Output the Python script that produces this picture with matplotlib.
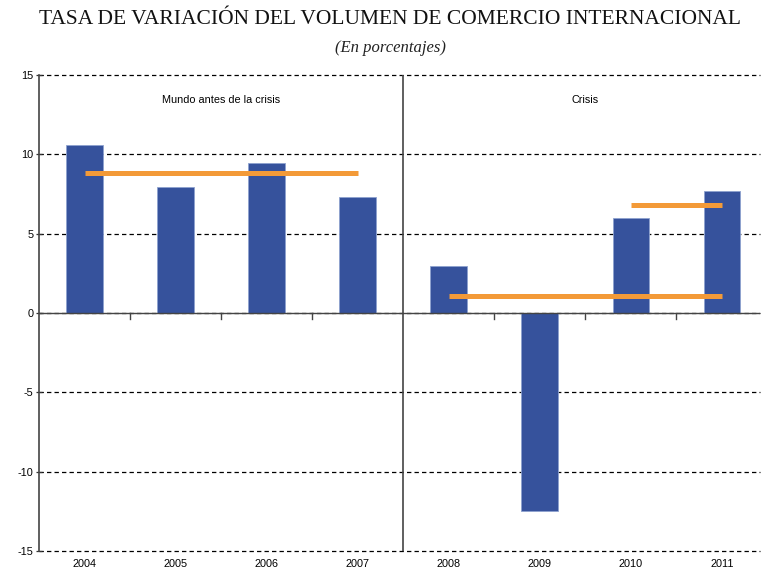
import matplotlib.pyplot as plt
import numpy as np

# data
years = ['2004', '2005', '2006', '2007', '2008', '2009', '2010', '2011']
growth = [10.6, 7.95, 9.45, 7.3, 2.95, -12.5, 6.0, 7.7]

# averages (start year index, end year index, value)
avg_pre = (0, 3, 8.8)
avg_crisis = (4, 7, 1.1)
avg_recovery = (6, 7, 6.8)

panel_labels = ['Mundo antes de la crisis', 'Crisis']

bar_color = '#36529c'
line_color = '#f39a38'

plt.rcParams['font.family'] = ['Liberation Sans', 'DejaVu Sans']

fig = plt.figure(figsize=(7.62, 5.71), dpi=100)
ax = fig.add_axes([39 / 762, 20 / 571, 721 / 762, 476 / 571])

x = np.arange(len(years))
ax.bar(x, growth, width=0.4, color=bar_color, edgecolor='#8ea2cf',
       linewidth=0.6, zorder=3)

for a, b, v in [avg_pre, avg_crisis, avg_recovery]:
    ax.plot([x[a], x[b]], [v, v], color=line_color, lw=3.6,
            solid_capstyle='butt', zorder=4)

ax.set_xlim(-0.5, 7.42)
ax.set_ylim(-15, 15)
ax.set_yticks([-15, -10, -5, 0, 5, 10, 15])
ax.set_yticklabels(['-15', '-10', '-5', '0', '5', '10', '15'])
ax.yaxis.grid(True, linestyle=(0, (3.5, 2.5)), color='black', lw=0.9, zorder=0)
ax.set_axisbelow(True)
for gl in ax.yaxis.get_gridlines():
    gl.set_clip_on(False)

ax.set_xticks(x)
ax.set_xticklabels(years)
ax.tick_params(axis='x', length=0, pad=6, labelsize=7.8)
ax.tick_params(axis='y', length=4, width=0.9, direction='inout',
               labelsize=7.8, pad=2, colors='#333333', labelcolor='black')

for s in ['top', 'right', 'bottom']:
    ax.spines[s].set_visible(False)
ax.spines['left'].set_color('#444444')
ax.spines['left'].set_linewidth(1.2)

# zero line, divider between panels and small ticks between years
ax.axhline(0, color='#444444', lw=1.0, zorder=5)
ax.axvline(3.5, color='#444444', lw=1.2, zorder=5)
for b in [0.5, 1.5, 2.5, 4.5, 5.5, 6.5]:
    ax.plot([b, b], [0, -0.4], color='#444444', lw=1.0, zorder=5)

ax.text(1.5, 13.4, panel_labels[0], ha='center', va='center', fontsize=7.8)
ax.text(5.5, 13.4, panel_labels[1], ha='center', va='center', fontsize=7.8)

fig.text(0.512, 1 - 20 / 571, 'TASA DE VARIACIÓN DEL VOLUMEN DE COMERCIO INTERNACIONAL',
         ha='center', va='center', fontsize=15.5, family='Liberation Serif',
         color='#111111')
fig.text(0.512, 1 - 48 / 571, '(En porcentajes)', ha='center', va='center',
         fontsize=12, family='Liberation Serif', style='italic', color='#222222')

fig.savefig('out.png', dpi=100)
